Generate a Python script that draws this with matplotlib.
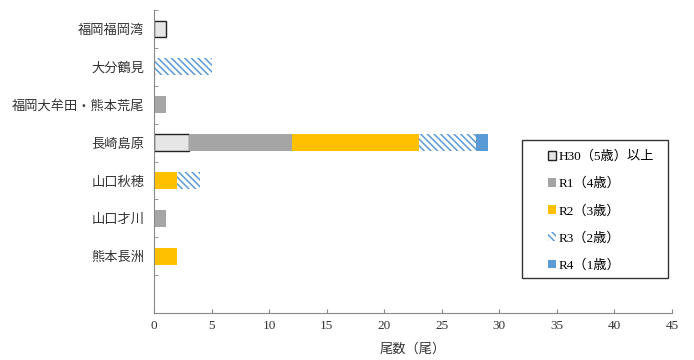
import numpy as np
import matplotlib
matplotlib.use('Agg')
import matplotlib.pyplot as plt
from matplotlib.patches import Rectangle

plt.rcParams['font.family'] = ['Liberation Serif', 'Noto Sans CJK JP']
plt.rcParams['hatch.linewidth'] = 1.1

# データ (尾数)
areas = ['福岡福岡湾', '大分鶴見', '福岡大牟田・熊本荒尾', '長崎島原', '山口秋穂', '山口才川', '熊本長洲', '']
h30 = [1, 0, 0, 3, 0, 0, 0, 0]
r1 = [0, 0, 1, 9, 0, 1, 0, 0]
r2 = [0, 0, 0, 11, 2, 0, 2, 0]
r3 = [0, 5, 0, 5, 2, 0, 0, 0]
r4 = [0, 0, 0, 1, 0, 0, 0, 0]
series_names = ['H30（5歳）以上', 'R1（4歳）', 'R2（3歳）', 'R3（2歳）', 'R4（1歳）']
xticks = [0, 5, 10, 15, 20, 25, 30, 35, 40, 45]

fig = plt.figure(figsize=(6.94, 3.6), dpi=100)
ax = fig.add_axes([154/694, 1-313/360, (672-154)/694, (313-10)/360])

y = np.arange(len(areas))
h = 0.44
left = np.zeros(len(areas))
series = [h30, r1, r2, r3, r4]
styles = [
    dict(facecolor='#E6E6E6', edgecolor='#222222', linewidth=1.0),
    dict(facecolor='#A5A5A5', linewidth=0),
    dict(facecolor='#FFC000', linewidth=0),
    dict(facecolor='white', edgecolor='#5B9BD5', hatch='\\\\\\\\\\', linewidth=0),
    dict(facecolor='#5B9BD5', linewidth=0),
]
handles = []
for vals, name, st in zip(series, series_names, styles):
    vals = np.array(vals, dtype=float)
    nz = vals > 0   # 0の棒は描かない
    ax.barh(y[nz], vals[nz], height=h, left=left[nz], **st)
    handles.append(Rectangle((0, 0), 1, 1, label=name, **st))
    left += vals

ax.set_ylim(len(areas) - 0.5, -0.5)
ax.set_xlim(0, 45)
ax.set_xticks(xticks)
ax.set_yticks(y)
ax.set_yticklabels(areas, family=['Noto Sans CJK JP'], fontsize=9.5, color='#333333')
ax.set_yticks(np.arange(-0.5, len(areas)), minor=True)
ax.tick_params(axis='y', which='major', length=0, pad=7)
ax.tick_params(axis='y', which='minor', length=3, direction='in', color='#888888')
ax.tick_params(axis='x', length=3, direction='in', color='#888888', labelsize=9.5, labelcolor='#333333', pad=5)

for s in ['top', 'right']:
    ax.spines[s].set_visible(False)
for s in ['left', 'bottom']:
    ax.spines[s].set_color('#888888')

ax.set_xlabel('尾数（尾）', family=['Noto Sans CJK JP'], fontsize=9.5, color='#333333', labelpad=8)

# 凡例 (枠は別に描く)
fig.patches.append(Rectangle((522/694, 1-278/360), 146/694, 138/360, transform=fig.transFigure,
                             facecolor='white', edgecolor='#333333', linewidth=1.0, zorder=5))
leg = fig.legend(handles=handles, loc='upper left', bbox_to_anchor=(541/694, 1-144/360),
                 fontsize=9.5, handlelength=0.6, handleheight=0.6, handletextpad=0.25,
                 labelspacing=1.1, borderpad=0, frameon=False)
leg.set_zorder(6)

fig.savefig('out.png', dpi=100)
